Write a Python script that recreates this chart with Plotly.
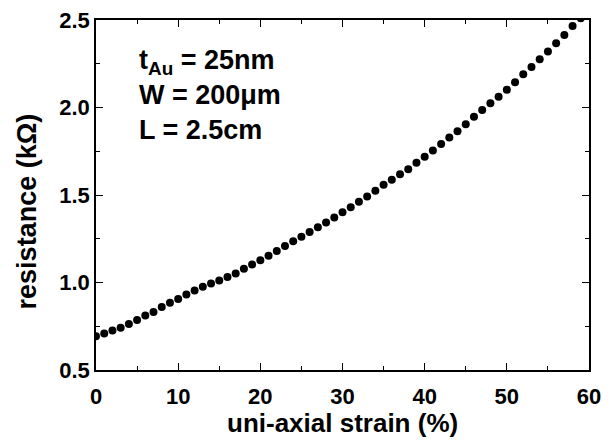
import plotly.graph_objects as go

strain = list(range(0, 60))
resistance = [0.693, 0.709, 0.726, 0.741, 0.763, 0.786, 0.811, 0.832, 0.860, 0.884,
              0.906, 0.931, 0.955, 0.976, 0.995, 1.012, 1.031, 1.052, 1.078, 1.103,
              1.127, 1.153, 1.180, 1.208, 1.235, 1.262, 1.288, 1.316, 1.343, 1.372,
              1.401, 1.430, 1.461, 1.492, 1.525, 1.559, 1.587, 1.618, 1.647, 1.685,
              1.719, 1.754, 1.791, 1.829, 1.865, 1.904, 1.947, 1.986, 2.024, 2.062,
              2.102, 2.145, 2.190, 2.231, 2.276, 2.320, 2.367, 2.414, 2.466, 2.51]

x_title = "uni-axial strain (%)"
y_title = "resistance (kΩ)"
note_lines = ["t<sub>Au</sub> = 25nm", "W = 200μm", "L = 2.5cm"]

FONT = "Liberation Sans, Arial, sans-serif"

fig = go.Figure()
fig.add_trace(go.Scatter(
    x=strain, y=resistance, mode="markers",
    marker=dict(size=8, color="black", line=dict(width=0)),
    showlegend=False,
))

axis_common = dict(
    showgrid=False, zeroline=False, automargin=False,
    showline=True, linecolor="black", linewidth=1.5,
    mirror="ticks", ticks="inside", ticklen=7, tickwidth=1.3, tickcolor="black",
    tickfont=dict(family=FONT, size=22, color="black", weight="bold"),
)

fig.update_xaxes(
    range=[0, 60], dtick=10, tick0=0,
    minor=dict(ticks="inside", ticklen=4, dtick=5, tickcolor="black", tickwidth=1.2),
    ticklabelstandoff=6,
    **axis_common,
)
fig.update_yaxes(
    range=[0.5, 2.5], dtick=0.5, tick0=0.5, tickformat=".1f",
    minor=dict(ticks="inside", ticklen=4, dtick=0.25, tickcolor="black", tickwidth=1.2),
    **axis_common,
)

fig.add_annotation(
    text=x_title, showarrow=False,
    xref="paper", yref="paper", x=0.5, y=-(423 - 370.4) / 350,
    xanchor="center", yanchor="middle",
    font=dict(family=FONT, size=26, color="black", weight="bold"),
)

fig.add_annotation(
    text=y_title, textangle=-90, showarrow=False,
    xref="paper", yref="paper", x=-0.14, y=0.453,
    xanchor="center", yanchor="middle",
    font=dict(family=FONT, size=27, color="black", weight="bold"),
)

fig.add_annotation(
    text="<br>".join(note_lines), showarrow=False, align="left",
    xref="paper", yref="paper", x=0.083, y=0.935,
    xanchor="left", yanchor="top",
    font=dict(family=FONT, size=27, color="black", weight="bold"),
)

fig.update_layout(
    width=614, height=440,
    margin=dict(l=96, r=25, t=20, b=70),
    paper_bgcolor="white", plot_bgcolor="white",
)

fig.write_html("out.html")
